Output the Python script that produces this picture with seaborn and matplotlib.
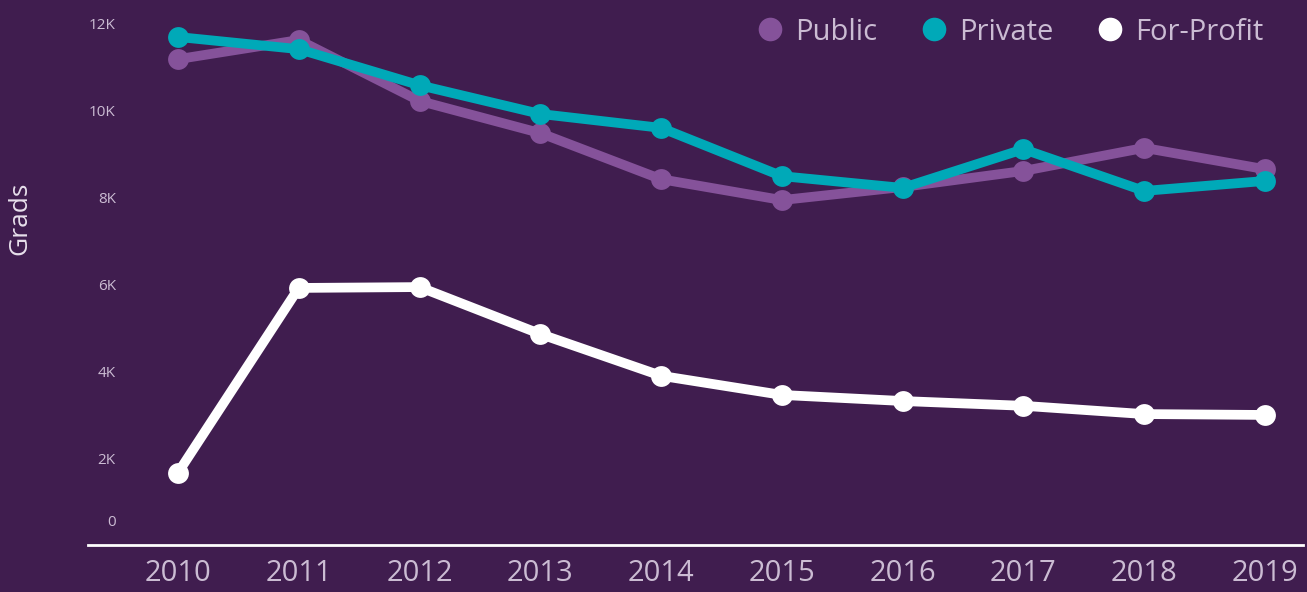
import pandas as pd
import matplotlib.pyplot as plt
import matplotlib.transforms as mtransforms
from matplotlib.lines import Line2D
import seaborn as sns

# data
years = [2010, 2011, 2012, 2013, 2014, 2015, 2016, 2017, 2018, 2019]
public = [11170, 11610, 10210, 9470, 8410, 7930, 8230, 8600, 9130, 8640]
private = [11680, 11400, 10570, 9910, 9590, 8480, 8210, 9100, 8140, 8370]
for_profit = [1660, 5910, 5930, 4850, 3890, 3450, 3310, 3200, 3010, 2990]
sectors = ['Public', 'Private', 'For-Profit']
colors = ['#85529a', '#00a9b8', '#ffffff']
ytick_vals = [0, 2000, 4000, 6000, 8000, 10000, 12000]
ytick_labels = ['0', '2K', '4K', '6K', '8K', '10K', '12K']

bg = '#401d4f'
txt = '#cbbcd3'

df = pd.DataFrame({
    'year': years * 3,
    'grads': public + private + for_profit,
    'sector': ['Public'] * 10 + ['Private'] * 10 + ['For-Profit'] * 10,
})

sns.set_style('white')
plt.rcParams['font.family'] = ['Open Sans', 'DejaVu Sans']

fig = plt.figure(figsize=(13.07, 5.92), dpi=100, facecolor=bg)
ax = fig.add_axes([88 / 1307, 47 / 592, 1215 / 1307, 545 / 592])
ax.set_facecolor(bg)

sns.lineplot(data=df, x='year', y='grads', hue='sector', hue_order=sectors,
             palette=colors, marker='o', markersize=15, markeredgewidth=0,
             linewidth=7, legend=False, ax=ax)

ax.set_xlim(2009.255, 2019.315)
ax.set_ylim(0, 12530)
ax.set_xticks(years)
ax.set_xticklabels([str(y) for y in years])
ax.set_yticks(ytick_vals)
ax.set_yticklabels(ytick_labels)

for s in ['top', 'right', 'left']:
    ax.spines[s].set_visible(False)
ax.spines['bottom'].set_color('#ffffff')
ax.spines['bottom'].set_linewidth(2)

ax.tick_params(axis='x', colors=txt, labelsize=21, length=0, pad=10)
ax.tick_params(axis='y', colors=txt, labelsize=11, length=0, pad=-20)
for lab in ax.get_yticklabels():
    lab.set_horizontalalignment('right')

# the zero label sits a bit above the baseline
zero_lab = ax.get_yticklabels()[0]
zero_lab.set_transform(zero_lab.get_transform() +
                       mtransforms.ScaledTranslation(0, 0.24, fig.dpi_scale_trans))

ax.set_xlabel('')
ax.set_ylabel('Grads', color='#e8e0ec', fontsize=19)
ax.yaxis.set_label_coords(-0.046, 0.6)

handles = [Line2D([], [], linestyle='none', marker='o', markersize=17,
                  markerfacecolor=c, markeredgewidth=0) for c in colors]
leg = ax.legend(handles, sectors, ncol=3, frameon=False, loc='upper right',
                bbox_to_anchor=(1275 / 1307, 1.0 - 6 / 592), bbox_transform=fig.transFigure,
                fontsize=21, handlelength=0.75, handletextpad=0.5,
                columnspacing=1.55, borderaxespad=0)
for t in leg.get_texts():
    t.set_color(txt)

fig.savefig('out.png', dpi=100, facecolor=bg)
